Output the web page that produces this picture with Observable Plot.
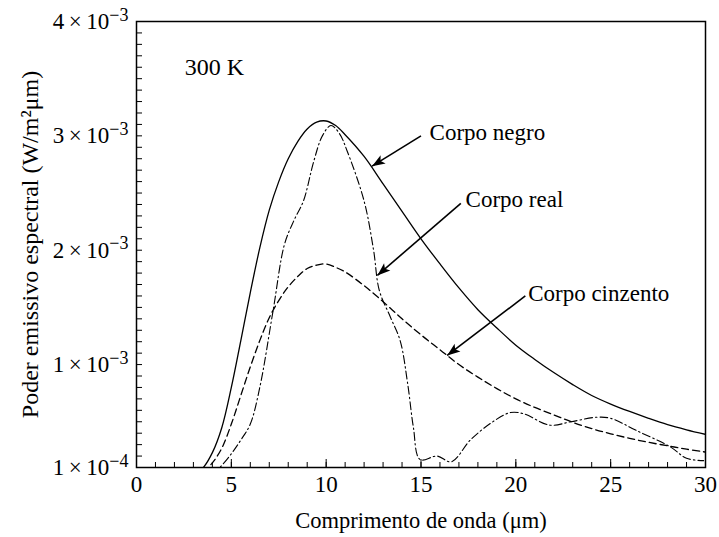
<!DOCTYPE html>
<html>
<head>
<meta charset="utf-8">
<script src="https://cdn.jsdelivr.net/npm/d3@7"></script>
<script src="https://cdn.jsdelivr.net/npm/@observablehq/plot@0.6"></script>
<style>
  html, body { margin: 0; padding: 0; background: #fff; }
  svg { display: block; }
</style>
</head>
<body>
<div id="chart"></div>
<script>
// Wavelength (µm) and spectral emissive power (W/m²µm)
const negroX = [3.0, 3.5, 4, 4.5, 5, 5.5, 6, 6.5, 7, 7.5, 8, 8.5, 9, 9.5, 10, 10.5, 11, 12, 13, 14, 15, 16, 17, 18, 19, 20, 21, 22, 23, 24, 25, 26, 27, 28, 29, 30];
const negroY = [0.03e-3, 0.095e-3, 0.23e-3, 0.45e-3, 0.80e-3, 1.21e-3, 1.63e-3, 2.02e-3, 2.35e-3, 2.60e-3, 2.80e-3, 2.95e-3, 3.06e-3, 3.12e-3, 3.13e-3, 3.09e-3, 3.01e-3, 2.82e-3, 2.58e-3, 2.34e-3, 2.10e-3, 1.88e-3, 1.67e-3, 1.48e-3, 1.32e-3, 1.17e-3, 1.045e-3, 0.93e-3, 0.825e-3, 0.73e-3, 0.655e-3, 0.59e-3, 0.53e-3, 0.475e-3, 0.43e-3, 0.39e-3];

const cinzentoX = [3.5, 4, 4.5, 5, 5.5, 6, 6.5, 7, 7.5, 8, 8.5, 9, 9.5, 10, 10.5, 11, 12, 13, 14, 15, 16, 17, 18, 19, 20, 21, 22, 23, 24, 25, 26, 27, 28, 29, 30];
const cinzentoY = [0.057e-3, 0.14e-3, 0.27e-3, 0.48e-3, 0.73e-3, 0.98e-3, 1.21e-3, 1.41e-3, 1.56e-3, 1.68e-3, 1.77e-3, 1.84e-3, 1.87e-3, 1.88e-3, 1.85e-3, 1.81e-3, 1.69e-3, 1.55e-3, 1.40e-3, 1.26e-3, 1.13e-3, 1.00e-3, 0.89e-3, 0.79e-3, 0.70e-3, 0.625e-3, 0.56e-3, 0.495e-3, 0.44e-3, 0.395e-3, 0.355e-3, 0.32e-3, 0.29e-3, 0.26e-3, 0.235e-3];

const realX = [4.0, 4.4, 5.0, 5.5, 6.0, 6.5, 7.2, 7.8, 8.3, 8.8, 9.35, 9.8, 10.25, 10.7, 11.1, 12.0, 12.5, 12.8, 13.4, 13.9, 14.3, 14.6, 14.95, 15.85, 16.6, 17.6, 18.7, 19.7, 20.4, 21.8, 22.9, 24.3, 25.0, 26.4, 28.15, 29.0, 29.9];
const realY = [0.04e-3, 0.10e-3, 0.22e-3, 0.34e-3, 0.48e-3, 0.80e-3, 1.47e-3, 2.05e-3, 2.26e-3, 2.43e-3, 2.78e-3, 3.00e-3, 3.09e-3, 3.02e-3, 2.87e-3, 2.43e-3, 2.00e-3, 1.65e-3, 1.41e-3, 1.21e-3, 0.83e-3, 0.45e-3, 0.17e-3, 0.20e-3, 0.15e-3, 0.34e-3, 0.49e-3, 0.58e-3, 0.57e-3, 0.47e-3, 0.50e-3, 0.54e-3, 0.53e-3, 0.42e-3, 0.28e-3, 0.18e-3, 0.16e-3];

// Axis ticks and labels
const xTicks = [0, 5, 10, 15, 20, 25, 30];
const xMinorTicks = d3.range(0, 31, 1);
const yTicks = [1e-4, 1e-3, 2e-3, 3e-3, 4e-3];
const yTickMant = ["1", "1", "2", "3", "4"];
const yTickExp = ["−4", "−3", "−3", "−3", "−3"];
const yMinorTicks = d3.range(1, 41).map(d => d * 1e-4);

// Annotations
const labels = ["Corpo negro", "Corpo real", "Corpo cinzento"];
const labelX = [15.45, 17.35, 20.65];
const labelY = [3.03e-3, 2.44e-3, 1.62e-3];
const arrowX1 = [15.0, 17.1, 20.5];
const arrowY1 = [3.0e-3, 2.41e-3, 1.60e-3];
const arrowX2 = [12.42, 12.7, 16.38];
const arrowY2 = [2.735e-3, 1.78e-3, 1.08e-3];
const tempLabel = "300 K";

const series = [
  ...negroX.map((x, i) => ({x, y: negroY[i], s: "negro"})),
  ...cinzentoX.map((x, i) => ({x, y: cinzentoY[i], s: "cinzento"})),
  ...realX.map((x, i) => ({x, y: realY[i], s: "real"}))
];
const ann = labels.map((t, i) => ({t, lx: labelX[i], ly: labelY[i], x1: arrowX1[i], y1: arrowY1[i], x2: arrowX2[i], y2: arrowY2[i]}));

const font = "'Liberation Serif', 'Times New Roman', serif";

function headMarker(color, context) {
  const m = d3.create("svg:marker")
    .attr("viewBox", "-14 -6 16 12")
    .attr("markerWidth", 16)
    .attr("markerHeight", 12)
    .attr("markerUnits", "userSpaceOnUse")
    .attr("refX", 0)
    .attr("refY", 0)
    .attr("orient", "auto");
  m.append("path")
    .attr("d", "M0,0 L-13,-4.8 L-10,0 L-13,4.8 Z")
    .attr("fill", "black")
    .attr("stroke", "none");
  return m.node();
}

const blank = () => "";

const chart = Plot.plot({
  width: 719,
  height: 537,
  marginLeft: 136,
  marginRight: 14,
  marginTop: 21,
  marginBottom: 70,
  style: {fontFamily: font, background: "white", color: "black"},
  x: {domain: [0, 30]},
  y: {domain: [1e-4, 4e-3]},
  marks: [
    // minor ticks pointing inward
    Plot.axisX(xMinorTicks, {tickSize: -5, tickFormat: blank, label: null, stroke: "black", strokeWidth: 1}),
    Plot.axisX(xTicks, {tickSize: -8, tickPadding: 16, label: "Comprimento de onda (μm)", labelAnchor: "center", labelArrow: "none", labelOffset: 60, stroke: "black"}),
    Plot.axisY(yMinorTicks, {tickSize: -6, tickFormat: blank, label: null, stroke: "black"}),
    Plot.axisY(yTicks, {tickSize: 0, tickPadding: 8, tickFormat: (d, i) => yTickMant[i] + "\u2009×\u200910" + "|" + yTickExp[i], label: "Poder emissivo espectral (W/m²μm)", labelAnchor: "center", labelArrow: "none", labelOffset: 116}),
    Plot.frame({stroke: "black", strokeWidth: 1.5}),
    Plot.line(series.filter(d => d.s === "negro"), {x: "x", y: "y", stroke: "black", strokeWidth: 1.3, curve: "catmull-rom", clip: true}),
    Plot.line(series.filter(d => d.s === "cinzento"), {x: "x", y: "y", stroke: "black", strokeWidth: 1.3, strokeDasharray: "7,4", curve: "catmull-rom", clip: true}),
    Plot.line(series.filter(d => d.s === "real"), {x: "x", y: "y", stroke: "black", strokeWidth: 1.1, strokeDasharray: "8,3,1.5,3", curve: "catmull-rom", clip: true}),
    Plot.link(ann, {x1: "x1", y1: "y1", x2: "x2", y2: "y2", stroke: "black", strokeWidth: 1.6, markerEnd: headMarker}),
    Plot.text(ann, {x: "lx", y: "ly", text: "t", textAnchor: "start", fontSize: 23, fill: "black"}),
    Plot.text([tempLabel], {x: 2.55, y: 3.6e-3, text: d => d, textAnchor: "start", fontSize: 24, fill: "black"})
  ]
});

const svg = d3.select(chart);
// y tick labels: render exponent as superscript
svg.selectAll("g[aria-label='y-axis tick label'] text").each(function () {
  const el = d3.select(this);
  const t = el.text();
  if (!t.includes("|")) return;
  const parts = t.split("|");
  el.text(null).attr("font-size", 23);
  el.append("tspan").text(parts[0]);
  el.append("tspan").attr("dy", "-0.45em").attr("font-size", "18").text(parts[1]);
});
svg.selectAll("g[aria-label='x-axis tick label'] text").attr("font-size", 23);
svg.selectAll("g[aria-label='x-axis label'] text").attr("font-size", 22.5);
svg.selectAll("g[aria-label='y-axis label'] text").attr("font-size", 24);
document.getElementById("chart").appendChild(chart);
</script>
</body>
</html>
